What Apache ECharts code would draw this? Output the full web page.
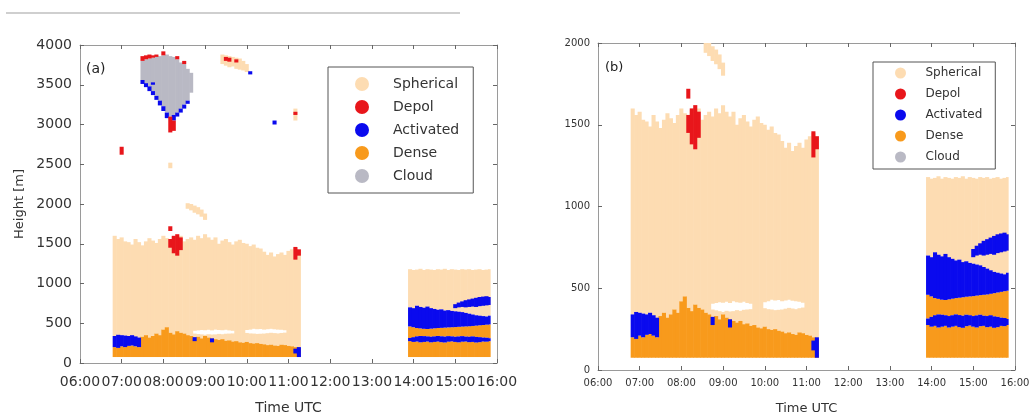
<!DOCTYPE html>
<html>
<head>
<meta charset="utf-8">
<script src="https://cdn.jsdelivr.net/npm/echarts@6/dist/echarts.min.js"></script>
<style>html,body{margin:0;padding:0;background:#fff}#c{width:1034px;height:416px}</style>
</head>
<body>
<div id="c"></div>
<script>
// ---------- DATA ----------
const classNames = ['Spherical', 'Depol', 'Activated', 'Dense', 'Cloud'];
const classColors = ['#FDDCB2', '#E8161B', '#0A0AEE', '#F89A1C', '#B9B9C4'];
const xTickHours = [6, 7, 8, 9, 10, 11, 12, 13, 14, 15, 16];
const baseHeight = 75; // lowest retrieved height [m]

// Block 1 (morning): 5-minute profile columns
const b1Times = ['06:47','06:52','06:57','07:02','07:07','07:12','07:17','07:22','07:27','07:32','07:37','07:42','07:47','07:52','07:57','08:02','08:07','08:12','08:17','08:22','08:27','08:32','08:37','08:42','08:47','08:52','08:57','09:02','09:07','09:12','09:17','09:22','09:27','09:32','09:37','09:42','09:47','09:52','09:57','10:02','10:07','10:12','10:17','10:22','10:27','10:32','10:37','10:42','10:47','10:52','10:57','11:02','11:07','11:12'];
const b1End = '11:17';
const b1SphTop   = [1600,1560,1580,1530,1520,1490,1560,1520,1480,1530,1570,1540,1510,1560,1600,1570,1540,1590,1560,1600,1530,1560,1580,1550,1600,1570,1620,1580,1550,1580,1500,1540,1560,1520,1490,1530,1550,1510,1500,1470,1490,1450,1440,1400,1360,1390,1340,1370,1390,1360,1410,1430,1450,1420];
const b1DenseTop = [200,190,210,200,215,220,210,200,330,350,320,340,370,350,420,450,380,360,400,380,370,350,340,320,330,310,340,320,310,300,290,300,280,285,270,275,260,255,265,250,245,250,240,235,225,230,220,215,230,225,215,210,200,190];

// Patches of block 1: [column index, bottom, top]
const b1ActPatches = [[0,200,340],[1,190,355],[2,210,350],[3,200,345],[4,215,340],[5,220,350],[6,210,335],[7,200,320],
  [23,275,325],[28,260,310],[52,120,180],[53,75,200],
  [8,3510,3560],[9,3470,3520],[10,3420,3480],[11,3370,3420],[12,3310,3360],[13,3240,3300],[14,3170,3230],[15,3080,3150],
  [17,3050,3120],[18,3100,3150],[19,3150,3200],[20,3200,3250],[21,3260,3300],[11,3500,3530],[39,3630,3670],[46,3000,3050]];
const b1GapPatches = [[23,370,405],[24,365,410],[25,360,415],[26,355,412],[27,362,418],[28,358,410],[29,360,420],[30,366,415],[31,362,412],[32,368,418],[33,370,410],[34,372,405],
  [38,378,415],[39,372,420],[40,370,430],[41,366,425],[42,368,428],[43,370,420],[44,375,425],[45,380,430],[46,376,424],[47,372,420],[48,378,418],[49,382,412]];
const b1CloudPatches = [[8,3560,3800],[9,3520,3820],[10,3480,3830],[11,3420,3840],[12,3360,3850],[13,3300,3860],[14,3230,3870],[15,3150,3880],
  [16,3100,3860],[17,3120,3850],[18,3150,3820],[19,3200,3780],[20,3250,3760],[21,3300,3700],[22,3400,3650]];
const b1DepolPatches = [[8,3800,3860],[9,3820,3870],[10,3830,3880],[11,3840,3870],[12,3850,3880],[14,3870,3920],[16,2900,3100],[17,2920,3050],[18,3820,3860],[20,3760,3800],
  [2,2620,2720],[16,1660,1720],[16,1450,1560],[17,1380,1600],[18,1350,1620],[19,1420,1580],[52,1300,1460],[53,1350,1430],
  [32,3800,3850],[33,3790,3840],[35,3780,3820],[52,3120,3160]];
const b1SphPatches = [[31,3760,3880],[32,3740,3870],[33,3720,3860],[34,3730,3850],[35,3700,3840],[36,3690,3830],[37,3680,3800],[38,3660,3760],
  [52,3050,3200],[21,1940,2010],[22,1920,2000],[23,1890,1980],[24,1870,1960],[25,1840,1930],[26,1800,1880],[16,2450,2520]];

// Block 2 (afternoon): 5-minute profile columns
const b2Times = ['13:52','13:57','14:02','14:07','14:12','14:17','14:22','14:27','14:32','14:37','14:42','14:47','14:52','14:57','15:02','15:07','15:12','15:17','15:22','15:27','15:32','15:37','15:42','15:47'];
const b2End = '15:50';
const b2SphTop    = [1180,1170,1175,1185,1170,1180,1175,1170,1180,1175,1185,1170,1180,1175,1170,1180,1175,1180,1170,1175,1180,1170,1175,1180];
const b2DenseTop  = [275,265,270,260,265,270,260,265,270,262,258,268,272,265,260,268,270,262,265,258,262,270,268,275];
const b2Act1Hi    = [315,325,335,340,338,335,330,335,340,336,332,338,335,330,334,338,332,330,335,328,325,320,318,312];
const b2Dense2Top = [460,450,440,435,430,428,432,436,440,442,445,448,450,452,455,458,460,462,466,470,474,478,482,485];
const b2Act2Top   = [700,690,720,705,695,710,690,680,670,675,660,665,655,650,645,640,630,620,610,600,595,590,585,595];
const b2ActPatches = [[13,690,740],[14,700,760],[15,705,775],[16,700,790],[17,705,800],[18,710,810],[19,705,820],[20,715,830],[21,720,835],[22,725,840],[23,730,830]];

// ---------- BUILD SEGMENTS [t0, t1, bottom, top] ----------
function hr(s){ const p = s.split(':'); return +p[0] + (+p[1])/60; }
function cols(times, end){ const t = times.map(hr); return t.map((v,i)=>[v, i < t.length-1 ? t[i+1] : hr(end)]); }
const c1 = cols(b1Times, b1End), c2 = cols(b2Times, b2End);
const segs = {Spherical:[], Depol:[], Activated:[], Dense:[], Cloud:[]};
function add(cls, c, lo, hi){ if (lo == null || hi == null || hi <= lo) return; segs[cls].push([c[0], c[1], lo, hi]); }

const gapByCol = {}; b1GapPatches.forEach(p=>gapByCol[p[0]] = p);
const actByCol = {}; b1ActPatches.forEach(p=>{ if (p[1] < 1000) actByCol[p[0]] = p; });
c1.forEach((c,i)=>{
  add('Dense', c, baseHeight, b1DenseTop[i]);
  let sLo = b1DenseTop[i];
  const a = actByCol[i];
  if (a && a[1] >= b1DenseTop[i]) sLo = a[2];
  const g = gapByCol[i];
  if (g) { add('Spherical', c, sLo, g[1]); add('Spherical', c, g[2], b1SphTop[i]); }
  else add('Spherical', c, sLo, b1SphTop[i]);
});
b1SphPatches.forEach(p=>add('Spherical', c1[p[0]], p[1], p[2]));
b1CloudPatches.forEach(p=>add('Cloud', c1[p[0]], p[1], p[2]));
b1ActPatches.forEach(p=>add('Activated', c1[p[0]], p[1], p[2]));
b1DepolPatches.forEach(p=>add('Depol', c1[p[0]], p[1], p[2]));

c2.forEach((c,i)=>{
  add('Dense', c, baseHeight, b2DenseTop[i]);
  add('Activated', c, b2DenseTop[i], b2Act1Hi[i]);
  add('Dense', c, b2Act1Hi[i], b2Dense2Top[i]);
  add('Activated', c, b2Dense2Top[i], b2Act2Top[i]);
  add('Spherical', c, b2Act2Top[i], b2SphTop[i]);
});
b2ActPatches.forEach(p=>add('Activated', c2[p[0]], p[1], p[2]));

// ---------- CHART ----------
const chart = echarts.init(document.getElementById('c'), null, {renderer:'canvas'});
const FONT = 'DejaVu Sans';
function renderRect(params, api){
  const p0 = api.coord([api.value(0), api.value(3)]);
  const p1 = api.coord([api.value(1), api.value(2)]);
  const cs = params.coordSys;
  const shape = echarts.graphic.clipRectByRect(
    {x:p0[0], y:p0[1], width:p1[0]-p0[0]+0.6, height:p1[1]-p0[1]},
    {x:cs.x, y:cs.y, width:cs.width, height:cs.height});
  return shape && {type:'rect', shape, style:{fill: api.visual('color')}};
}
const drawOrder = ['Spherical','Dense','Cloud','Activated','Depol'];
const series = [];
[0,1].forEach(g=>{
  drawOrder.forEach(name=>{
    series.push({type:'custom', name, xAxisIndex:g*2, yAxisIndex:g*2, renderItem:renderRect,
      encode:{x:[0,1], y:[2,3]}, data:segs[name], silent:true,
      itemStyle:{color: classColors[classNames.indexOf(name)]}});
  });
});
const axisGray = '#9a9a9a';
const hhmm = v => (v<10?'0':'') + v + ':00';
function xAx(grid, pos, fs, margin, show){
  return {type:'value', gridIndex:grid, position:pos, min:xTickHours[0], max:xTickHours[xTickHours.length-1], interval:1,
    axisLine:{show:true, onZero:false, lineStyle:{color:axisGray}}, axisTick:{show:true, inside:true, length:4, lineStyle:{color:'#666'}},
    splitLine:{show:false},
    axisLabel:{show:show, formatter:hhmm, fontFamily:FONT, fontSize:fs, color:'#333', margin:margin},
    name: show ? 'Time UTC' : '', nameLocation:'middle', nameGap: show ? (grid===0?38:32) : 0,
    nameTextStyle:{fontFamily:FONT, fontSize: grid===0?14:13, color:'#333'}};
}
function yAx(grid, pos, max, interval, fs, show, name){
  return {type:'value', gridIndex:grid, position:pos, min:0, max, interval,
    axisLine:{show:true, onZero:false, lineStyle:{color:axisGray}}, axisTick:{show:true, inside:true, length:4, lineStyle:{color:'#666'}},
    splitLine:{show:false},
    axisLabel:{show:show, formatter:v=>String(v), fontFamily:FONT, fontSize:fs, color:'#333', margin:8},
    name:name||'', nameLocation:'middle', nameGap:54, nameRotate:90,
    nameTextStyle:{fontFamily:FONT, fontSize:13, color:'#333'}};
}
const legendData = classNames.map(n=>({name:n, icon:'circle'}));
chart.setOption({
  animation:false,
  backgroundColor:'#fff',
  grid:[
    {left:80, top:45, width:417, height:318, containLabel:false, outerBoundsMode:'none'},
    {left:598, top:43, width:417, height:327, containLabel:false, outerBoundsMode:'none'}
  ],
  xAxis:[ xAx(0,'bottom',14,12,true), xAx(0,'top',14,8,false), xAx(1,'bottom',10,8,true), xAx(1,'top',10,8,false) ],
  yAxis:[ yAx(0,'left',4000,500,14,true,'Height [m]'), yAx(0,'right',4000,500,14,false), yAx(1,'left',2000,500,10,true), yAx(1,'right',2000,500,10,false) ],
  legend:[
    {data:legendData, orient:'vertical', left:328, top:67, itemWidth:52, itemHeight:14, itemGap:9,
     padding:[10,14,10,27], borderColor:'#555', borderWidth:1, backgroundColor:'#fff', selectedMode:false,
     textStyle:{fontFamily:FONT, fontSize:14, color:'#333'}},
    {data:legendData, orient:'vertical', left:873, top:62, itemWidth:40, itemHeight:11, itemGap:9,
     padding:[5,13,6,22], borderColor:'#555', borderWidth:1, backgroundColor:'#fff', selectedMode:false,
     textStyle:{fontFamily:FONT, fontSize:12, color:'#333'}}
  ],
  graphic:[
    {type:'line', shape:{x1:6, y1:13, x2:460, y2:13}, style:{stroke:'#cfcfcf', lineWidth:2}, silent:true},
    {type:'text', left:86, top:62, style:{text:'(a)', font:'14px "DejaVu Sans"', fill:'#222'}, silent:true},
    {type:'text', left:605, top:61, style:{text:'(b)', font:'13px "DejaVu Sans"', fill:'#222'}, silent:true}
  ],
  series
});
</script>
</body>
</html>
